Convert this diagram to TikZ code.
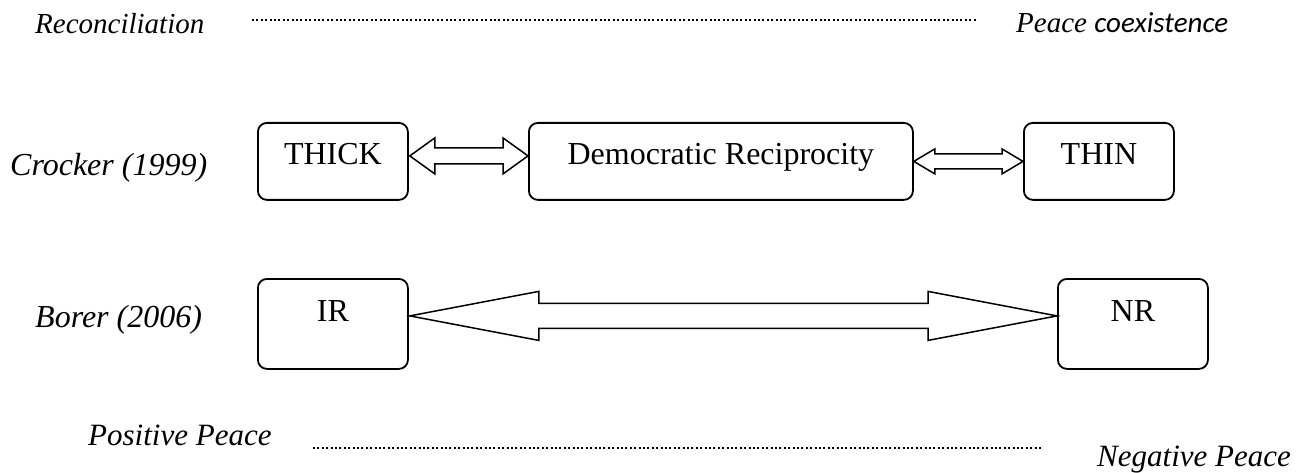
\documentclass[tikz,border=0pt]{standalone}
\usepackage{fontspec}
\setmainfont{Liberation Serif}
\newfontfamily\calibri{Carlito}
\usetikzlibrary{calc}

% hollow double-headed arrow between two tip coordinates on one level
% #1,#2 tips; #3 shaft half-width; #4 head half-width; #5 head length
\newcommand{\hollowarrow}[5]{%
  \draw[arrowline] let \p1=(#1), \p2=(#2) in
    (\x1,\y1) -- (\x1+#5pt,\y1+#4pt) -- (\x1+#5pt,\y1+#3pt)
    -- (\x2-#5pt,\y1+#3pt) -- (\x2-#5pt,\y1+#4pt) -- (\x2,\y2)
    -- (\x2-#5pt,\y1-#4pt) -- (\x2-#5pt,\y1-#3pt)
    -- (\x1+#5pt,\y1-#3pt) -- (\x1+#5pt,\y1-#4pt) -- cycle;}

\begin{document}
\begin{tikzpicture}[x=1pt,y=-1pt,
  box/.style={draw, line width=1.8pt, rounded corners=9pt, inner sep=0pt,
    anchor=north west, minimum width=150pt, align=center,
    font=\fontsize{32}{36}\selectfont},
  toprow/.style={box, text height=42pt, text depth=35pt},
  botrow/.style={box, text height=43pt, text depth=47pt},
  tag/.style={anchor=base west, inner sep=0pt, font=\itshape\fontsize{#1}{#1}\selectfont},
  tag/.default=32,
  arrowline/.style={draw, line width=1.5pt, line join=miter, fill=white},
  dotline/.style={line width=2.2pt, dash pattern=on 2pt off 2.4pt}]
\useasboundingbox (0,0) rectangle (1309,473);

% side labels
\node[tag=29] (recon) at (35,34) {Reconciliation};
\node[tag=29] (coex) at (1016,33) {Peace {\calibri coexistence}};
\node[tag] (crocker) at (10,176) {Crocker (1999)};
\node[tag] (borer) at (35,327) {Borer (2006)};
\node[tag=31] (pos) at (88,445) {Positive Peace};
\node[tag=31] (neg) at (1097,466) {Negative Peace};

% dotted scales
\coordinate (t1) at (252,20);
\coordinate (t2) at (977,20);
\coordinate (b1) at (313,448);
\coordinate (b2) at (1042,448);
\draw[dotline] (t1) -- (t2);
\draw[dotline] (b1) -- (b2);

% Crocker row
\node[toprow] (thick) at (257,122) {THICK};
\node[toprow, minimum width=384pt] (demo) at (528,122) {Democratic Reciprocity};
\node[toprow] (thin) at (1023,122) {THIN};

% Borer row
\node[botrow] (ir) at (257,278) {IR};
\node[botrow] (nr) at (1057,278) {NR};

% connectors
\coordinate (a1) at ($(thick.east)+(1,-5.5)$);
\coordinate (a2) at ($(demo.west)+(0,-5.5)$);
\hollowarrow{a1}{a2}{8}{18}{25}
\coordinate (c1) at (demo.east);
\coordinate (c2) at (thin.west);
\hollowarrow{c1}{c2}{7.5}{12.5}{21}
\coordinate (e1) at ($(ir.east)+(1,-8)$);
\coordinate (e2) at ($(nr.west)+(0,-8)$);
\hollowarrow{e1}{e2}{12.5}{24.5}{129}
\end{tikzpicture}
\end{document}
